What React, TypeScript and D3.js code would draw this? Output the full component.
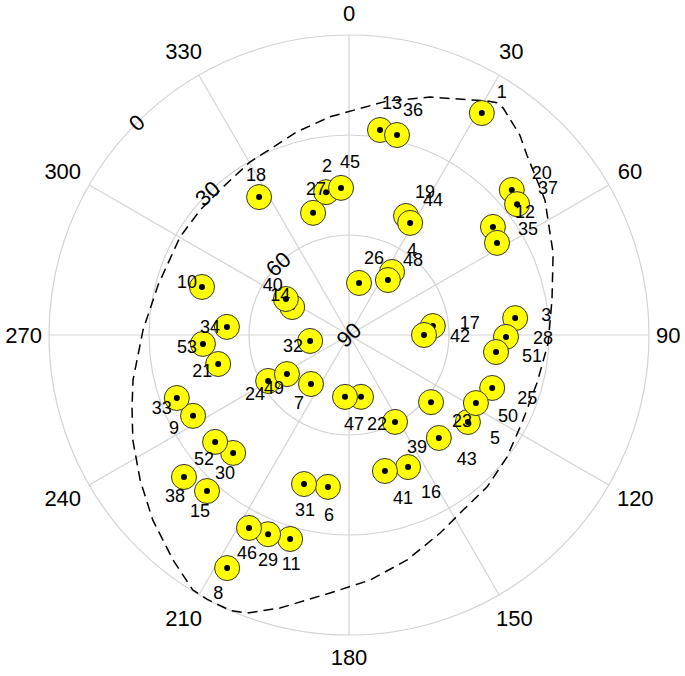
import React from 'react';
import * as d3 from 'd3';

// Satellite numbers, azimuth (deg, clockwise from north) and elevation (deg)
const satIds = Array.from({ length: 53 }, (_, i) => i + 1);
const satAz = [30.9, 350.9, 84.2, 34.3, 126.2, 187.9, 217.8, 207.6, 242.6, 288.1, 196.1, 53.1, 8.6, 296.2, 222.3, 155.9, 83.9, 326.9, 25.6, 48.3, 257.5, 169.0, 129.3, 240.4, 110.3, 10.9, 343.6, 90.7, 202.1, 224.5, 196.8, 261.3, 249.9, 273.8, 58.1, 13.5, 52.1, 229.3, 152.1, 299.7, 165.2, 90.0, 138.9, 28.6, 356.9, 207.4, 183.7, 35.3, 237.8, 118.2, 96.6, 231.4, 266.5];
const satEl = [12.4, 46.6, 39.9, 67.1, 45.8, 44.0, 71.4, 11.1, 37.3, 43.6, 26.3, 36.0, 27.8, 71.0, 26.7, 46.6, 64.7, 40.6, 50.4, 24.6, 49.8, 71.1, 58.2, 62.1, 44.2, 74.1, 51.8, 42.9, 25.5, 40.4, 43.3, 78.2, 35.0, 53.3, 37.7, 28.3, 26.1, 24.7, 60.5, 68.2, 47.8, 67.5, 49.0, 51.7, 45.8, 24.8, 71.4, 69.8, 68.0, 46.8, 45.6, 38.6, 46.1];
// label nudges relative to each marker
const labelNudge: [number, number][] = [[20,-21],[1,-26],[31,-3],[20,-22],[27,16],[1,28],[-12,19],[-9,25],[-19,12],[-15,-5],[1,25],[32,-15],[12,-27],[-12,-12],[-7,20],[23,25],[37,-3],[-3,-22],[19,-24],[30,-17],[-16,7],[16,27],[31,19],[-13,13],[35,10],[15,-25],[3,-24],[37,1],[0,26],[-8,20],[1,26],[-17,5],[-15,10],[-17,0],[31,-14],[16,-25],[31,-16],[-9,19],[22,25],[-13,-14],[18,27],[36,1],[28,21],[23,-23],[9,-26],[-2,25],[9,27],[25,-20],[-13,14],[32,13],[36,4],[-11,17],[-16,3]];

// Elevation mask (azimuth, elevation)
const maskAz = [355.0, 9.2, 18.8, 30.5, 32.5, 34.2, 40.5, 44.7, 55.4, 68.1, 80.2, 92.3, 104.3, 117.0, 127.7, 137.8, 146.9, 155.3, 165.5, 175.1, 184.2, 194.2, 200.1, 203.2, 208.2, 211.5, 218.0, 226.7, 235.2, 244.1, 251.6, 258.2, 271.4, 284.7, 300.1, 310.0, 319.6, 330.2, 345.6];
const maskEl = [24.3, 18.9, 14.6, 8.5, 7.4, 7.7, 11.1, 14.1, 18.6, 24.0, 28.2, 30.2, 31.8, 31.8, 30.1, 28.4, 27.3, 24.6, 20.3, 16.2, 12.4, 5.5, 1.2, 0, 0, 0.3, 4.3, 9.1, 13.7, 17.9, 21.4, 23.8, 28.2, 30.8, 31.4, 31.7, 31.7, 30.2, 27.1];

const azTicks = [0, 30, 60, 90, 120, 150, 180, 210, 240, 270, 300, 330];
const elRings = [0, 30, 60];
const elTickLabels = [0, 30, 60, 90];

export default function App() {
  const W = 685, H = 676, cx = 349, cy = 335, R = 300;
  const rScale = d3.scaleLinear().domain([90, 0]).range([0, R]);
  const rad = (a: number) => (a * Math.PI) / 180;
  const pt = (az: number, el: number): [number, number] => {
    const r = rScale(el);
    return [cx + r * Math.sin(rad(az)), cy - r * Math.cos(rad(az))];
  };
  const maskPts = maskAz.map((a, i) => [a, maskEl[i]] as [number, number]);
  const maskPath = d3
    .lineRadial<[number, number]>()
    .angle((d) => rad(d[0]))
    .radius((d) => rScale(d[1]))
    .curve(d3.curveLinearClosed)(maskPts) as string;

  const font = "'Liberation Sans', Arial, Helvetica, sans-serif";
  const grid = '#d3d3d3';
  const azFont = 22;

  return (
    <svg width={W} height={H} style={{ position: 'absolute', left: 0, top: 0, background: '#fff' }} fontFamily={font}>
      <rect width={W} height={H} fill="#fff" />
      {elRings.map((e) => (
        <circle key={e} cx={cx} cy={cy} r={rScale(e)} fill="none" stroke={grid} strokeWidth={1.2} />
      ))}
      {azTicks.map((a) => {
        const [x, y] = pt(a, 0);
        return <line key={a} x1={cx} y1={cy} x2={x} y2={y} stroke={grid} strokeWidth={1.2} />;
      })}
      {azTicks.map((a) => {
        const halfW = String(a).length * 0.556 * azFont / 2;
        const diag = 6 * Math.abs(Math.sin(rad(2 * a)));
        const x = cx + Math.sin(rad(a)) * (R + 7 + halfW + diag);
        const y = cy - Math.cos(rad(a)) * (R + 22 + diag);
        return (
          <text key={a} x={x} y={y} fontSize={azFont} textAnchor="middle" dominantBaseline="central" fill="#000">
            {a}
          </text>
        );
      })}
      {elTickLabels.map((e) => {
        const [x, y] = pt(315, e);
        return (
          <text key={e} x={x} y={y} fontSize={22} textAnchor="middle" dominantBaseline="central"
            transform={`rotate(-43 ${x} ${y})`} fill="#000">
            {e}
          </text>
        );
      })}
      <path d={maskPath} transform={`translate(${cx},${cy})`} fill="none" stroke="#000" strokeWidth={1.5} strokeDasharray="10,6" />
      {satIds.map((id, i) => {
        const [x, y] = pt(satAz[i], satEl[i]);
        return (
          <g key={id}>
            <circle cx={x} cy={y} r={12.5} fill="#ffff00" stroke="#333" strokeWidth={1} />
            <circle cx={x} cy={y} r={3} fill="#000" />
          </g>
        );
      })}
      {satIds.map((id, i) => {
        const [x, y] = pt(satAz[i], satEl[i]);
        return (
          <text key={id} x={x + labelNudge[i][0]} y={y + labelNudge[i][1]} fontSize={18} textAnchor="middle"
            dominantBaseline="central" fill="#000">
            {id}
          </text>
        );
      })}
    </svg>
  );
}
